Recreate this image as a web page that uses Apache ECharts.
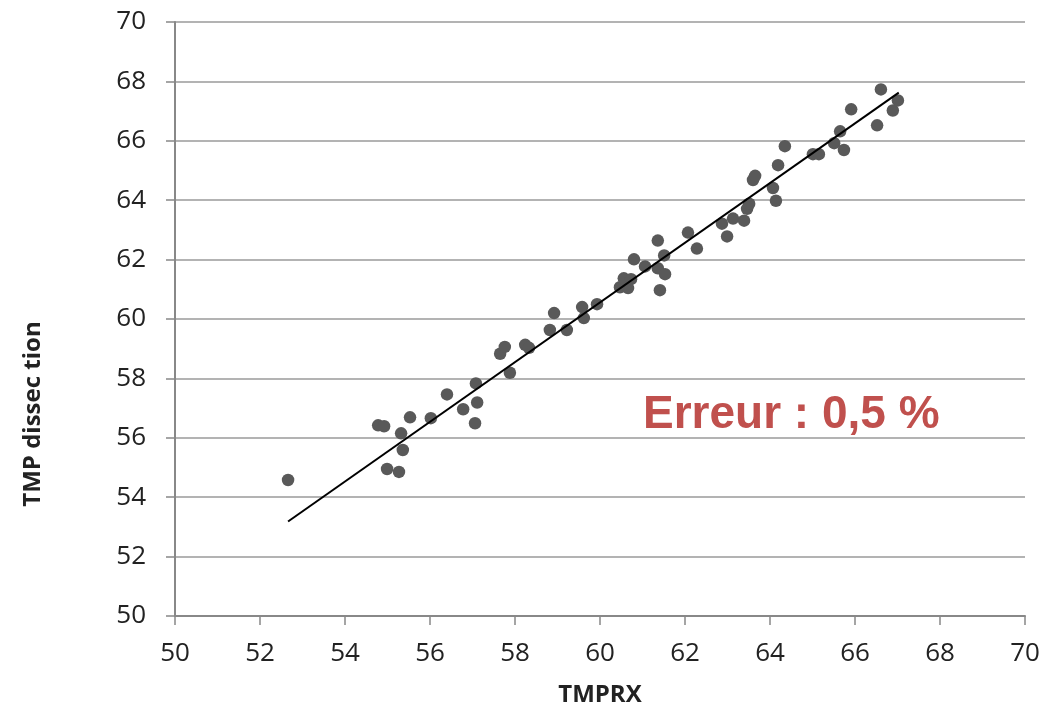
<!DOCTYPE html>
<html>
<head>
<meta charset="utf-8">
<script src="https://cdn.jsdelivr.net/npm/echarts@6/dist/echarts.min.js"></script>
<style>
  html, body { margin: 0; padding: 0; background: #fff; }
  #container { width: 1052px; height: 712px; }
</style>
</head>
<body>
<div id="container"></div>
<script>
var dom = document.getElementById("container");
var myChart = echarts.init(dom, null, { renderer: "canvas" });

// TMPRX values (x) and TMP dissection values (y)
const tmprx = [
  52.66, 54.78, 54.92, 54.99, 55.27, 55.32, 55.36, 55.53, 56.02, 56.40,
  56.78, 57.06, 57.08, 57.11, 57.65, 57.76, 57.88, 58.24, 58.33, 58.82,
  58.92, 59.22, 59.58, 59.62, 59.93, 60.47, 60.56, 60.66, 60.73, 60.80,
  61.06, 61.36, 61.36, 61.41, 61.51, 61.53, 62.07, 62.28, 62.87, 62.99,
  63.13, 63.39, 63.46, 63.51, 63.60, 63.65, 64.07, 64.14, 64.19, 64.35,
  65.01, 65.15, 65.51, 65.65, 65.74, 65.91, 66.52, 66.61, 66.89, 67.01
];
const tmpDissection = [
  54.58, 56.42, 56.39, 54.95, 54.85, 56.15, 55.59, 56.69, 56.66, 57.46,
  56.96, 56.49, 57.83, 57.19, 58.83, 59.06, 58.19, 59.13, 59.03, 59.63,
  60.20, 59.63, 60.40, 60.03, 60.50, 61.07, 61.37, 61.04, 61.34, 62.01,
  61.77, 62.64, 61.71, 60.97, 62.14, 61.51, 62.91, 62.37, 63.21, 62.78,
  63.38, 63.31, 63.71, 63.88, 64.68, 64.82, 64.41, 63.98, 65.18, 65.82,
  65.55, 65.55, 65.92, 66.32, 65.69, 67.06, 66.52, 67.73, 67.02, 67.36
];
// trend line end points
const trendX = [52.66, 67.03];
const trendY = [53.18, 67.62];
const axisTicks = [50, 70, 2];

const points = tmprx.map(function (x, i) {
  return [x, tmpDissection[i]];
});
const trend = trendX.map(function (x, i) {
  return [x, trendY[i]];
});

const labelFont = { fontFamily: "Open Sans", fontSize: 26, color: "#222" };

var option = {
  backgroundColor: "#fff",
  animation: false,
  grid: { left: 175, right: 27, top: 22, bottom: 92 },
  xAxis: {
    type: "value",
    min: axisTicks[0],
    max: axisTicks[1],
    interval: axisTicks[2],
    name: "TMPRX",
    nameLocation: "middle",
    nameGap: 67,
    nameTextStyle: {
      fontFamily: "Open Sans",
      fontWeight: "bold",
      fontSize: 24,
      color: "#222",
    },
    axisLine: { show: true, onZero: false, lineStyle: { color: "#888", width: 2 } },
    axisTick: { show: true, length: 9, lineStyle: { color: "#888", width: 1.5 } },
    axisLabel: Object.assign({ margin: 25 }, labelFont),
    splitLine: { show: false },
  },
  yAxis: {
    type: "value",
    min: axisTicks[0],
    max: axisTicks[1],
    interval: axisTicks[2],
    axisLine: { show: true, onZero: false, lineStyle: { color: "#888", width: 2 } },
    axisTick: { show: true, length: 9, lineStyle: { color: "#888", width: 1.5 } },
    axisLabel: Object.assign({ margin: 29 }, labelFont),
    splitLine: { show: true, lineStyle: { color: "#9a9a9a", width: 1.5 } },
  },
  series: [
    {
      type: "line",
      data: trend,
      showSymbol: false,
      symbol: "none",
      lineStyle: { color: "#000", width: 2 },
      z: 3,
    },
    {
      type: "scatter",
      data: points,
      symbolSize: 12.5,
      itemStyle: { color: "#595959", opacity: 1 },
      z: 2,
    },
  ],
  graphic: {
    elements: [
      {
        type: "text",
        x: 33,
        y: 414,
        rotation: Math.PI / 2,
        style: {
          text: "TMP dissec tion",
          font: "bold 24px 'Open Sans'",
          fill: "#222",
          align: "center",
          verticalAlign: "middle",
        },
      },
      {
        type: "text",
        left: 643,
        top: 392,
        style: {
          text: "Erreur : 0,5 %",
          font: "bold 46px 'Liberation Sans'",
          fill: "#C0504D",
        },
      },
    ],
  },
};

myChart.setOption(option);
window.addEventListener("resize", myChart.resize);
</script>
</body>
</html>
